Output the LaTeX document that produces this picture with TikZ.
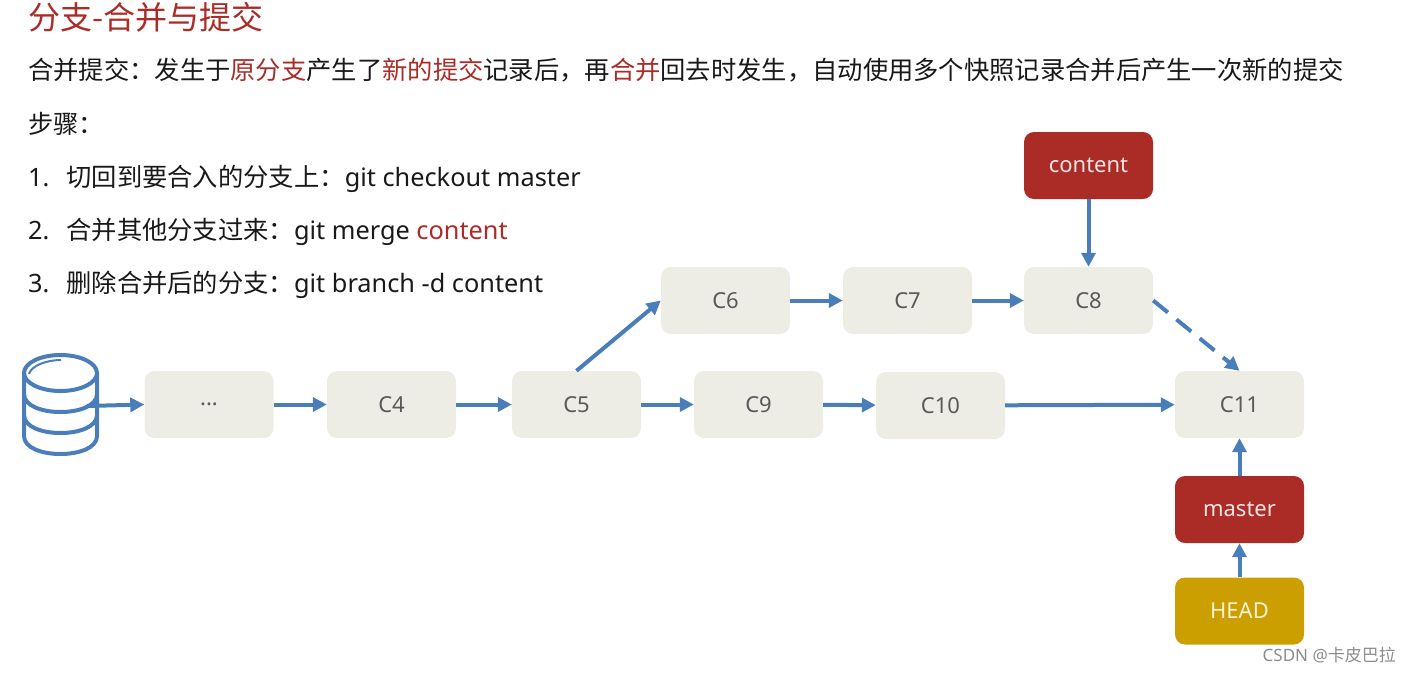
\documentclass[tikz,border=0pt]{standalone}
\usepackage{fontspec}
\setmainfont{Noto Sans}
\newfontfamily\cjk{Noto Sans CJK SC}
\usetikzlibrary{arrows.meta}
\definecolor{redc}{HTML}{AB2B26}
\definecolor{boxc}{HTML}{EDEDE6}
\definecolor{bluec}{HTML}{4A7EBB}
\definecolor{goldc}{HTML}{CC9F00}
\definecolor{graytx}{HTML}{595959}
\newcommand{\rd}[1]{\textcolor{redc}{#1}}
\tikzset{
  box/.style={rounded corners=10pt,minimum width=129pt,minimum height=67pt,inner sep=0pt,font=\fontsize{22}{24}\selectfont},
  commit/.style={box,fill=boxc,text=graytx},
  branchbox/.style={box,fill=redc,text=white!88!redc},
  headbox/.style={box,fill=goldc,text=white!85!goldc},
  link/.style={bluec,line width=4pt,-{Triangle[length=14pt,width=14pt]}},
  dbline/.style={bluec,line width=4pt},
  txt/.style={anchor=base west,inner sep=0pt,font=\fontsize{25.3}{28}\selectfont,text=black!90},
}
\begin{document}
\begin{tikzpicture}[x=1pt,y=-1pt]
\useasboundingbox (0,0) rectangle (1411,673);
% text
\node[txt,font=\fontsize{32}{36}\selectfont\cjk,text=redc] (title) at (28,29) {分支-合并与提交};
\node[txt] (l1) at (28,79) {\cjk 合并提交：发生于\rd{原分支}产生了\rd{新的提交}记录后，再\rd{合并}回去时发生，自动使用多个快照记录合并后产生一次新的提交};
\node[txt] (l2) at (28,133) {\cjk 步骤：};
\node[txt] (l3) at (28,186) {1.\hspace{17pt}{\cjk 切回到要合入的分支上：}git checkout master};
\node[txt] (l4) at (28,239) {2.\hspace{17pt}{\cjk 合并其他分支过来：}git merge \rd{content}};
\node[txt] (l5) at (28,292) {3.\hspace{17pt}{\cjk 删除合并后的分支：}git branch -d content};
% database
\draw[dbline] (60.5,373) ellipse [x radius=36.5,y radius=18];
\draw[dbline] (24,373) -- (24,436) .. controls (24,460) and (97,460) .. (97,436) -- (97,373);
\draw[dbline] (24,394) .. controls (24,418) and (97,418) .. (97,394);
\draw[dbline] (24,415) .. controls (24,439) and (97,439) .. (97,415);
\draw[bluec,line width=2pt] (29,374) .. controls (31,366) and (46,360) .. (61,360);
\coordinate (db) at (87,406);
% nodes
\node[commit] (cd) at (209,404.5) {...};
\node[commit] (c4) at (391.5,404.5) {C4};
\node[commit] (c5) at (576.5,404.5) {C5};
\node[commit] (c9) at (758.5,404.5) {C9};
\node[commit] (c10) at (940.5,405.5) {C10};
\node[commit] (c11) at (1239.5,404.5) {C11};
\node[commit] (c6) at (725.5,300.5) {C6};
\node[commit] (c7) at (907.5,300.5) {C7};
\node[commit] (c8) at (1088.5,300.5) {C8};
\node[branchbox] (content) at (1088.5,165.5) {content};
\node[branchbox] (master) at (1239.5,509.5) {master};
\node[headbox] (head) at (1239.5,611) {HEAD};
% links
\draw[link] (db) -- (cd.west);
\draw[link] (cd) -- (c4);
\draw[link] (c4) -- (c5);
\draw[link] (c5) -- (c9);
\draw[link] (c9) -- (c10);
\draw[link] (c10) -- (c11);
\draw[link] (c5.north) -- (c6.west);
\draw[link] (c6) -- (c7);
\draw[link] (c7) -- (c8);
\draw[link] (content) -- (c8);
\draw[link,dash pattern=on 19pt off 11pt] (c8.east) -- (c11.north);
\draw[link] (master) -- (c11);
\draw[link] (head) -- (master);
% watermark
\node[anchor=base east,inner sep=0pt,text=black!45,font=\fontsize{17}{20}\selectfont] (wm) at (1396,661) {CSDN @{\cjk 卡皮巴拉}};
\end{tikzpicture}
\end{document}
